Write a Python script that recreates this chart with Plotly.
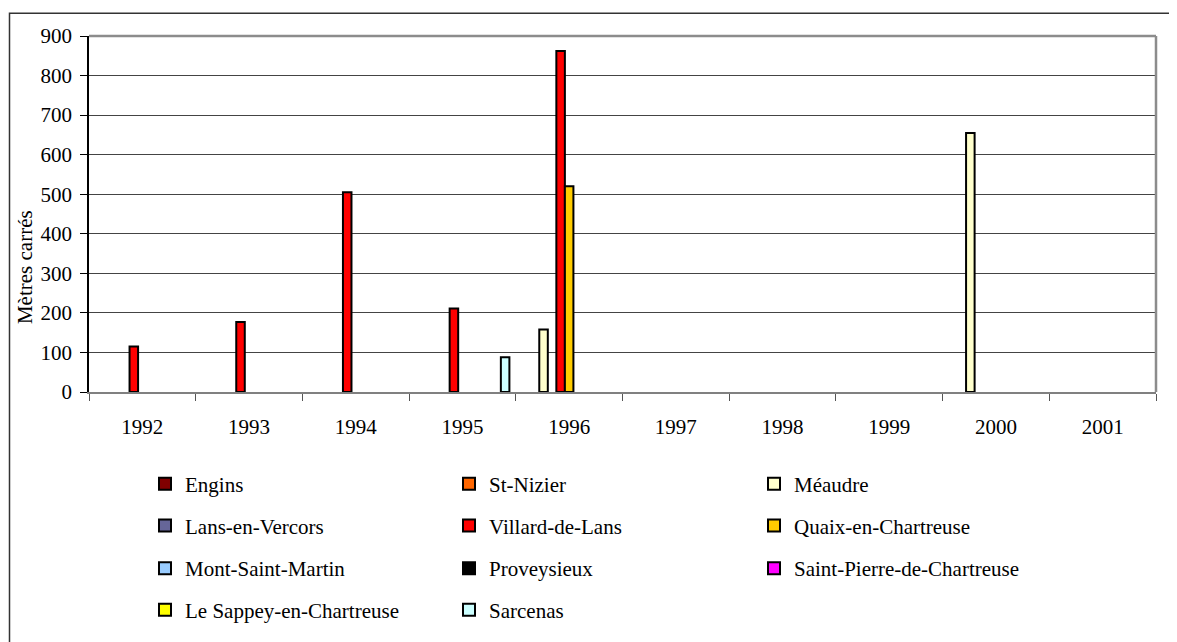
import plotly.graph_objects as go

# ---- data ----
years = ["1992", "1993", "1994", "1995", "1996", "1997", "1998", "1999", "2000", "2001"]

series_names = [
    "Engins", "St-Nizier", "Méaudre",
    "Lans-en-Vercors", "Villard-de-Lans", "Quaix-en-Chartreuse",
    "Mont-Saint-Martin", "Proveysieux", "Saint-Pierre-de-Chartreuse",
    "Le Sappey-en-Chartreuse", "Sarcenas",
]

engins = [None, None, None, None, None, None, None, None, None, None]
st_nizier = [None, None, None, None, None, None, None, None, None, None]
meaudre = [None, None, None, None, 158, None, None, None, 655, None]
lans = [None, None, None, None, None, None, None, None, None, None]
villard = [115, 177, 505, 211, 862, None, None, None, None, None]
quaix = [None, None, None, None, 520, None, None, None, None, None]
mont_saint_martin = [None, None, None, None, None, None, None, None, None, None]
proveysieux = [None, None, None, None, None, None, None, None, None, None]
saint_pierre = [None, None, None, None, None, None, None, None, None, None]
le_sappey = [None, None, None, None, None, None, None, None, None, None]
sarcenas = [None, None, None, 88, None, None, None, None, None, None]

series_values = [engins, st_nizier, meaudre, lans, villard, quaix,
                 mont_saint_martin, proveysieux, saint_pierre, le_sappey, sarcenas]

y_ticks = [0, 100, 200, 300, 400, 500, 600, 700, 800, 900]
y_title = "Mètres carrés"

# ---- styles ----
colors = ["#800000", "#FF6600", "#FFFFCC", "#666699", "#FF0000", "#FFCC00",
          "#99CCFF", "#000000", "#FF00FF", "#FFFF00", "#CCFFFF"]

OFF = 8  # page body margin offset
W, H = 1177 - OFF, 642 - OFF
# plot area in page pixels: x 89..1156, y 36..395
L, R, T, B = 89 - OFF, 1177 - 1156, 36 - OFF, 642 - 395
PW = W - L - R
PH = H - T - B

def px_x(x):
    # page pixel -> paper coordinate
    return (x - OFF - L) / PW

def px_y(y):
    return (T + PH - (y - OFF)) / PH

FONT = '"Liberation Serif", "Times New Roman", Times, serif'
FS = 21

fig = go.Figure()

# legend layout: 3 columns, rows top to bottom
col_text_x = [185, 489, 794]
row_y = [488, 530, 573, 615]

legends = {}
for i, (name, vals, col) in enumerate(zip(series_names, series_values, colors)):
    lname = "legend" if i == 0 else f"legend{i+1}"
    fig.add_trace(go.Bar(
        x=years, y=vals, name=name,
        marker=dict(color=col, line=dict(color="#000000", width=2)),
        legend=lname,
    ))
    r, c = divmod(i, 3)
    legends[lname] = dict(
        x=px_x(col_text_x[c] - 40), xanchor="left",
        y=px_y(row_y[r]), yanchor="middle",
        font=dict(family=FONT, size=FS, color="#000000"),
        bgcolor="rgba(0,0,0,0)", borderwidth=0,
        itemclick=False, itemdoubleclick=False,
    )

fig.update_layout(
    width=W, height=H,
    margin=dict(l=L, r=R, t=T, b=B, pad=0),
    paper_bgcolor="#FFFFFF", plot_bgcolor="#FFFFFF",
    barmode="group", bargap=0.12, bargroupgap=0,
    font=dict(family=FONT, size=FS, color="#000000"),
    showlegend=True,
    **legends,
)

fig.update_xaxes(
    type="category",
    showgrid=False,
    showline=True, linecolor="#808080", linewidth=2,
    ticks="outside", ticklen=7, tickwidth=1, tickcolor="#555555",
    tickson="boundaries",
    ticklabelstandoff=15,
    tickfont=dict(family=FONT, size=FS, color="#000000"),
    mirror=False,
)
fig.update_yaxes(
    range=[0, 900],
    tickvals=y_ticks,
    showgrid=True, gridcolor="#444444", gridwidth=1,
    showline=True, linecolor="#000000", linewidth=1.5,
    ticks="outside", ticklen=7, tickwidth=1, tickcolor="#000000",
    ticklabelstandoff=4,
    tickfont=dict(family=FONT, size=FS, color="#000000"),
    zeroline=False,
)

# plot area border (top and right, grey)
fig.add_shape(type="line", xref="paper", yref="paper", x0=0, x1=1, y0=1, y1=1,
              line=dict(color="#8C8C8C", width=2.5), layer="above")
fig.add_shape(type="line", xref="paper", yref="paper", x0=1, x1=1, y0=0, y1=1,
              line=dict(color="#8C8C8C", width=2.5), layer="above")

# outer chart border
fig.add_shape(type="rect", xref="paper", yref="paper",
              x0=px_x(9.5), x1=px_x(1177 + 20), y0=px_y(642 + 20), y1=px_y(13),
              line=dict(color="#333333", width=1.5), layer="below")

# y axis title
fig.add_annotation(
    text=y_title, textangle=-90, showarrow=False,
    xref="paper", yref="paper", x=px_x(25), y=px_y(269),
    xanchor="center", yanchor="middle",
    font=dict(family=FONT, size=FS, color="#000000"),
)

fig.write_html("out.html")
